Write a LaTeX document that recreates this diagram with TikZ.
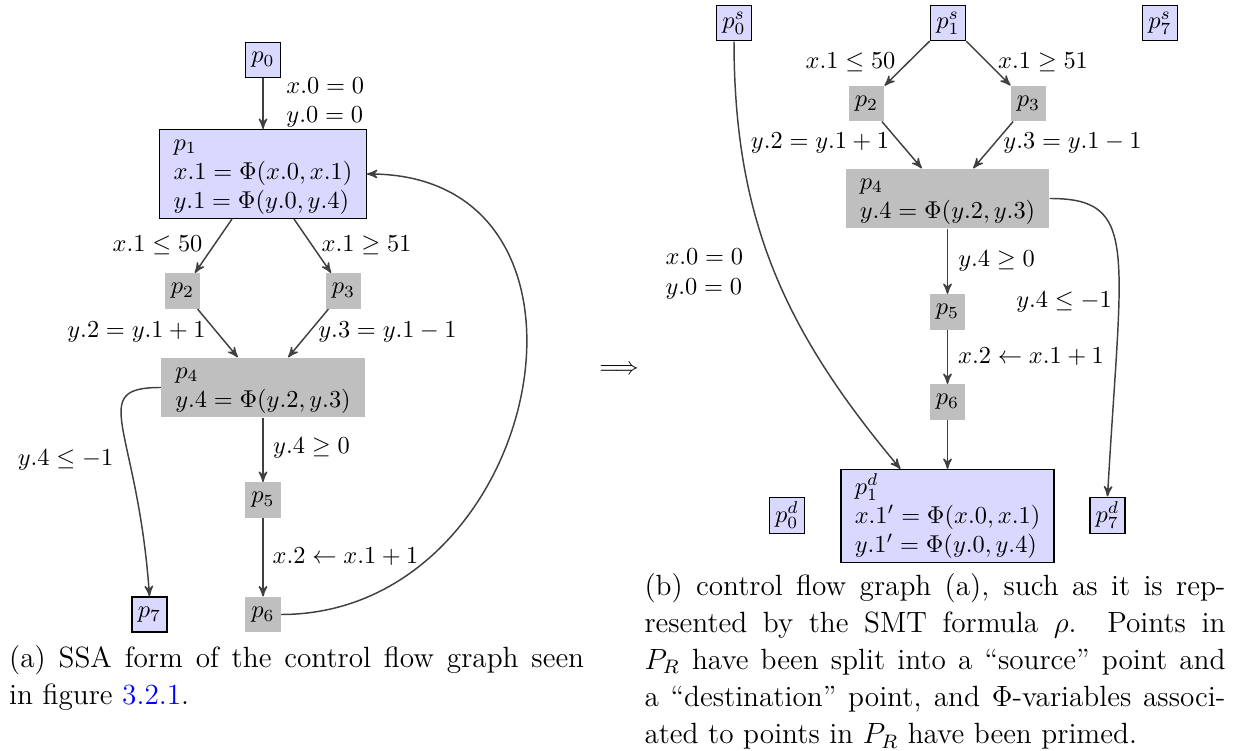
\documentclass[tikz,border=0pt]{standalone}
\usetikzlibrary{arrows}
\begin{document}
\begin{tikzpicture}[x=0.41pt,y=0.41pt,>=stealth',
    rp/.style={draw=black,semithick,fill=ptblue,minimum width=14.4pt,minimum height=14.4pt,inner sep=2pt},
    np/.style={fill=ptgrey,minimum width=14.4pt,minimum height=14.4pt,inner sep=2pt},
    blk/.style={align=left,inner xsep=5.7pt,inner ysep=1.5pt},
    arr/.style={->,semithick,draw=black!75},
    lbl/.style={inner sep=0pt},
    legenda/.style={anchor=north west,align=justify,inner sep=0pt,font=\fontsize{12}{15.2}\selectfont}]
  \colorlet{ptblue}{blue!15}
  \colorlet{ptgrey}{gray!50}
  \useasboundingbox (0,0) rectangle (1235,751);
  % (a) forma SSA do grafo
  \node[rp] (a0) at (263,691) {$p_0$};
  \node[rp,blk] (a1) at (263,577) {$p_1$\vphantom{$\Phi$}\\ $x.1=\Phi(x.0,x.1)$\\ $y.1=\Phi(y.0,y.4)$};
  \node[np] (a2) at (182.5,460) {$p_2$};
  \node[np] (a3) at (343.5,460) {$p_3$};
  \node[np,blk] (a4) at (263,363.5) {$p_4$\vphantom{$\Phi$}\\ $y.4=\Phi(y.2,y.3)$};
  \node[np] (a5) at (263,251) {$p_5$};
  \node[np] (a6) at (263,136.5) {$p_6$};
  \node[rp] (a7) at (149.5,136.5) {$p_7$};
  % arestas
  \draw[arr] (a0) -- (a1);
  \draw[arr] (a1) -- (a2);
  \draw[arr] (a1) -- (a3);
  \draw[arr] (a2) -- (a4);
  \draw[arr] (a3) -- (a4);
  \draw[arr] (a4) -- (a5);
  \draw[arr] (a5) -- (a6);
  \draw[arr] (a4.west) .. controls +(-75,0) and +(-12,170) .. (a7.north);
  \draw[arr] (a6.east) to[out=0,in=0,looseness=1.5] (a1.east);
  % rótulos das arestas
  \node[lbl,align=left,anchor=west] (la01) at (286,648.5) {$x.0=0$\\ $y.0=0$};
  \node[lbl] (la12) at (157.5,506) {$x.1\le 50$};
  \node[lbl] (la13) at (366.5,506) {$x.1\ge 51$};
  \node[lbl] (la24) at (136.5,419) {$y.2=y.1+1$};
  \node[lbl] (la34) at (387.5,419) {$y.3=y.1-1$};
  \node[lbl] (la45) at (311.5,303) {$y.4\ge 0$};
  \node[lbl] (la47) at (65.5,291) {$y.4\le -1$};
  \node[lbl] (la56) at (345.5,194) {$x.2\leftarrow x.1+1$};
  \node[legenda,text width=235.75pt] (capa) at (8.7,106)
    {(a) SSA form of the control flow graph seen\linebreak in figure \textcolor{blue}{3.2.1}.};
  % seta entre as duas figuras
  \node (impl) at (619,381) {$\Longrightarrow$};
  % (b) grafo como visto pela fórmula
  \node[rp] (b0s) at (734,728) {$p_0^s$};
  \node[rp] (b1s) at (948,728) {$p_1^s$};
  \node[rp] (b7s) at (1160,728) {$p_7^s$};
  \node[np] (b2) at (866.5,647.5) {$p_2$};
  \node[np] (b3) at (1028.5,647.5) {$p_3$};
  \node[np,blk] (b4) at (947.5,552.5) {$p_4$\vphantom{$\Phi$}\\ $y.4=\Phi(y.2,y.3)$};
  \node[np] (b5) at (947.5,439) {$p_5$};
  \node[np] (b6) at (947.5,349) {$p_6$};
  \node[rp,blk] (b1d) at (947.5,235) {$p_1^d$\vphantom{$\Phi$}\\ $x.1'=\Phi(x.0,x.1)$\\ $y.1'=\Phi(y.0,y.4)$};
  \node[rp] (b0d) at (787,235.5) {$p_0^d$};
  \node[rp] (b7d) at (1107.5,235.5) {$p_7^d$};
  % arestas
  \draw[arr] (b1s) -- (b2);
  \draw[arr] (b1s) -- (b3);
  \draw[arr] (b2) -- (b4);
  \draw[arr] (b3) -- (b4);
  \draw[arr] (b4) -- (b5);
  \draw[arr] (b5) -- (b6);
  \draw[arr] (b6) -- (b1d);
  \draw[arr] (b0s.south) to[out=-90,in=130] (b1d.135);
  \draw[arr] (b4.east) .. controls +(90,0) and +(14,248) .. (b7d.north);
  % rótulos das arestas
  \node[lbl] (lb12) at (850.5,689) {$x.1\le 50$};
  \node[lbl] (lb13) at (1043,689) {$x.1\ge 51$};
  \node[lbl] (lb24) at (820,608) {$y.2=y.1+1$};
  \node[lbl] (lb34) at (1072.5,608) {$y.3=y.1-1$};
  \node[lbl] (lb45) at (996.5,490) {$y.4\ge 0$};
  \node[lbl] (lb47) at (1064,449) {$y.4\le -1$};
  \node[lbl] (lb56) at (1031,394) {$x.2\leftarrow x.1+1$};
  \node[lbl,align=left,anchor=west] (lb00) at (665,477) {$x.0=0$\\ $y.0=0$};
  \node[legenda,text width=238.2pt] (capb) at (644,178)
    {(b) control flow graph (a), such as it is rep-\linebreak resented by the SMT formula $\rho$.
     Points in\linebreak $P_R$ have been split into a ``source'' point and\linebreak a
     ``destination'' point, and $\Phi$-variables associ-\linebreak ated to points in $P_R$
     have been primed.};
\end{tikzpicture}
\end{document}
